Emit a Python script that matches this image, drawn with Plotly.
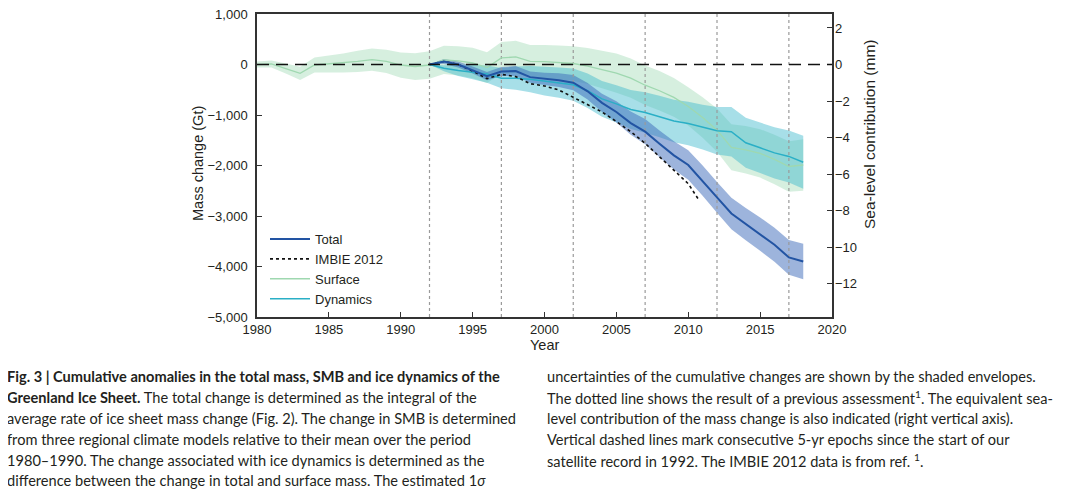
import plotly.graph_objects as go

# ---------------- data ----------------
years_surface = list(range(1980, 2019))
surface = [0, 10, -80, -175, -10, 10, 30, 60, 95, 60, -10, -40, -10,
           90, 70, 30, -60, 130, 150, 60, 55, 40, 20, -30, -100, -170,
           -270, -410, -520, -650, -830, -1050, -1300, -1640, -1690,
           -1760, -1880, -2020, -1990]
surface_sigma = [60, 70, 100, 130, 150, 170, 190, 210, 220, 230, 250, 265, 270,
                 280, 290, 300, 305, 315, 320, 325, 330, 335, 340, 355, 370, 390,
                 390, 390, 390, 385, 380, 400, 430, 455, 470, 480, 490, 500, 510]

years_sat = list(range(1992, 2019))
total = [0, 60, 0, -110, -230, -140, -130, -250, -285, -310, -360, -530, -760,
         -940, -1160, -1330, -1570, -1800, -1990, -2300, -2630, -2950, -3160,
         -3360, -3570, -3820, -3900]
total_sigma = [0, 50, 60, 70, 80, 90, 100, 110, 120, 135, 150, 165, 180, 210,
               230, 250, 265, 280, 290, 300, 305, 310, 320, 330, 335, 345, 350]
dynamics = [0, -75, -120, -150, -190, -270, -270, -290, -330, -360, -400, -520,
            -680, -780, -890, -950, -1030, -1120, -1170, -1240, -1310, -1330,
            -1550, -1650, -1750, -1820, -1935]
dynamics_sigma = [0, 60, 110, 140, 170, 200, 230, 260, 285, 300, 320, 340, 355,
                  370, 385, 400, 410, 420, 430, 445, 470, 490, 495, 500, 505, 515, 525]

years_imbie = [1992, 1993, 1994, 1995, 1996, 1997, 1998, 1999, 2000, 2001, 2002,
               2003, 2004, 2005, 2006, 2007, 2008, 2009, 2010, 2010.7]
imbie = [0, 60, 0, -130, -280, -195, -240, -380, -425, -505, -650, -800, -940,
         -1130, -1330, -1560, -1820, -2090, -2360, -2665]

epochs = [1992, 1997, 2002, 2007, 2012, 2017]

gt_ticks = [1000, 0, -1000, -2000, -3000, -4000, -5000]
gt_labels = ["1,000", "0", "\u22121,000", "\u22122,000", "\u22123,000", "\u22124,000", "\u22125,000"]
mm_ticks = [2, 0, -2, -4, -6, -8, -10, -12]
mm_labels = ["2", "0", "\u22122", "\u22124", "\u22126", "\u22128", "\u221210", "\u221212"]
GT_PER_MM = 362.0
x_ticks = [1980, 1985, 1990, 1995, 2000, 2005, 2010, 2015, 2020]

caption_left = [
    "<b>Fig. 3 | Cumulative anomalies in the total mass, SMB and ice dynamics of the</b>",
    "<b>Greenland Ice Sheet.</b> The total change is determined as the integral of the",
    "average rate of ice sheet mass change (Fig. 2). The change in SMB is determined",
    "from three regional climate models relative to their mean over the period",
    "1980\u20131990. The change associated with ice dynamics is determined as the",
    "difference between the change in total and surface mass. The estimated 1<i>\u03c3</i>",
]
caption_right = [
    "uncertainties of the cumulative changes are shown by the shaded envelopes.",
    "The dotted line shows the result of a previous assessment<sup>1</sup>. The equivalent sea-",
    "level contribution of the mass change is also indicated (right vertical axis).",
    "Vertical dashed lines mark consecutive 5-yr epochs since the start of our",
    "satellite record in 1992. The IMBIE 2012 data is from ref. <sup>1</sup>.",
]

# ---------------- figure ----------------
OFF = 8  # browser body margin
W, H = 1072 - OFF, 494 - OFF
L, R, T, B = 257 - OFF, 832 - OFF, 14 - OFF, 317 - OFF
TXT = "#231f20"
FAM = "Liberation Sans, Arial, sans-serif"
AXFONT = dict(family=FAM, size=13, color=TXT)
TITLEFONT = dict(family=FAM, size=14.5, color=TXT)
RTITLEFONT = dict(family=FAM, size=15.5, color=TXT)


def px(xp):
    return (xp - OFF - L) / (R - L)


def py(yp):
    return (B - (yp - OFF)) / (B - T)


def band(xs, c, s):
    up = [v + e for v, e in zip(c, s)]
    lo = [v - e for v, e in zip(c, s)]
    return xs + xs[::-1], up + lo[::-1]


fig = go.Figure()

bx, by = band(years_surface, surface, surface_sigma)
fig.add_trace(go.Scatter(x=bx, y=by, fill="toself", mode="none",
                         fillcolor="rgba(140,210,165,0.36)", showlegend=False, hoverinfo="skip"))
bx, by = band(years_sat, dynamics, dynamics_sigma)
fig.add_trace(go.Scatter(x=bx, y=by, fill="toself", mode="none",
                         fillcolor="rgba(60,185,205,0.45)", showlegend=False, hoverinfo="skip"))
bx, by = band(years_sat, total, total_sigma)
fig.add_trace(go.Scatter(x=bx, y=by, fill="toself", mode="none",
                         fillcolor="rgba(60,105,185,0.5)", showlegend=False, hoverinfo="skip"))

for e in epochs:
    fig.add_trace(go.Scatter(x=[e, e], y=[gt_ticks[-1], gt_ticks[0]], mode="lines",
                             line=dict(color="#9a9a9a", width=1.2, dash="dot"),
                             showlegend=False, hoverinfo="skip"))

fig.add_trace(go.Scatter(x=years_surface, y=surface, mode="lines", name="Surface",
                         line=dict(color="#9fd8b0", width=1.3), legendrank=3))
fig.add_trace(go.Scatter(x=years_sat, y=dynamics, mode="lines", name="Dynamics",
                         line=dict(color="#2aafc6", width=1.5), legendrank=4))
fig.add_trace(go.Scatter(x=years_imbie, y=imbie, mode="lines", name="IMBIE 2012",
                         line=dict(color="#111111", width=1.6, dash="dot"), legendrank=2))
fig.add_trace(go.Scatter(x=years_sat, y=total, mode="lines", name="Total",
                         line=dict(color="#2254a3", width=2), legendrank=1))

# empty trace to activate right axis
fig.add_trace(go.Scatter(x=[None], y=[None], yaxis="y2", showlegend=False, hoverinfo="skip"))

fig.add_shape(type="line", xref="x", yref="y", x0=x_ticks[0], x1=x_ticks[-1], y0=0, y1=0,
              line=dict(color="#111111", width=1.6, dash="12px,7px"), layer="above")

annotations = [
    dict(text="Mass change (Gt)", x=px(198), y=py(164), xanchor="center", yanchor="middle",
         xref="paper", yref="paper", textangle=-90, showarrow=False, font=TITLEFONT),
    dict(text="Sea-level contribution (mm)", x=px(869), y=py(134), xanchor="center",
         yanchor="middle", xref="paper", yref="paper", textangle=-90, showarrow=False,
         font=RTITLEFONT),
    dict(text="Year", x=0.5, y=py(345), xanchor="center", yanchor="middle",
         xref="paper", yref="paper", showarrow=False, font=TITLEFONT),
]
CAPFONT = dict(family="Lato, sans-serif", size=14.6, color=TXT)
for i, line in enumerate(caption_left):
    annotations.append(dict(text=line, x=px(5), y=py(376 + 21 * i),
                            xref="paper", yref="paper", xanchor="left", yanchor="middle",
                            showarrow=False, font=CAPFONT))
for i, line in enumerate(caption_right):
    annotations.append(dict(text=line, x=px(545), y=py(376 + 21 * i),
                            xref="paper", yref="paper", xanchor="left", yanchor="middle",
                            showarrow=False, font=CAPFONT))

fig.update_layout(
    width=W, height=H,
    margin=dict(l=L, r=W - R, t=T, b=H - B, pad=0, autoexpand=False),
    paper_bgcolor="white", plot_bgcolor="white",
    showlegend=True,
    legend=dict(x=px(265), y=py(224), xanchor="left", yanchor="top", bgcolor="rgba(0,0,0,0)",
                font=dict(family=FAM, size=13, color=TXT), tracegroupgap=0, itemwidth=40),
    xaxis=dict(range=[x_ticks[0], x_ticks[-1]], tickvals=x_ticks, ticks="inside", ticklen=5,
               tickcolor="#333", showline=True, linecolor="#333", linewidth=1.5, mirror=True,
               showgrid=False, zeroline=False, tickfont=AXFONT, automargin=False,
               ticklabeloverflow="allow"),
    yaxis=dict(range=[gt_ticks[-1], gt_ticks[0]], tickvals=gt_ticks, ticktext=gt_labels,
               ticks="inside", ticklen=5, tickcolor="#333", showline=True, linecolor="#333",
               linewidth=1.5, mirror=True, showgrid=False, zeroline=False, tickfont=AXFONT,
               ticklabelstandoff=5, automargin=False, ticklabeloverflow="allow"),
    yaxis2=dict(range=[gt_ticks[-1] / GT_PER_MM, gt_ticks[0] / GT_PER_MM], overlaying="y",
                side="right", tickvals=mm_ticks, ticktext=mm_labels, ticks="inside", ticklen=5,
                tickcolor="#333", showline=False, showgrid=False, zeroline=False, tickfont=AXFONT,
                ticklabelstandoff=2, automargin=False, ticklabeloverflow="allow"),
    annotations=annotations,
)

fig.write_html("out.html")
